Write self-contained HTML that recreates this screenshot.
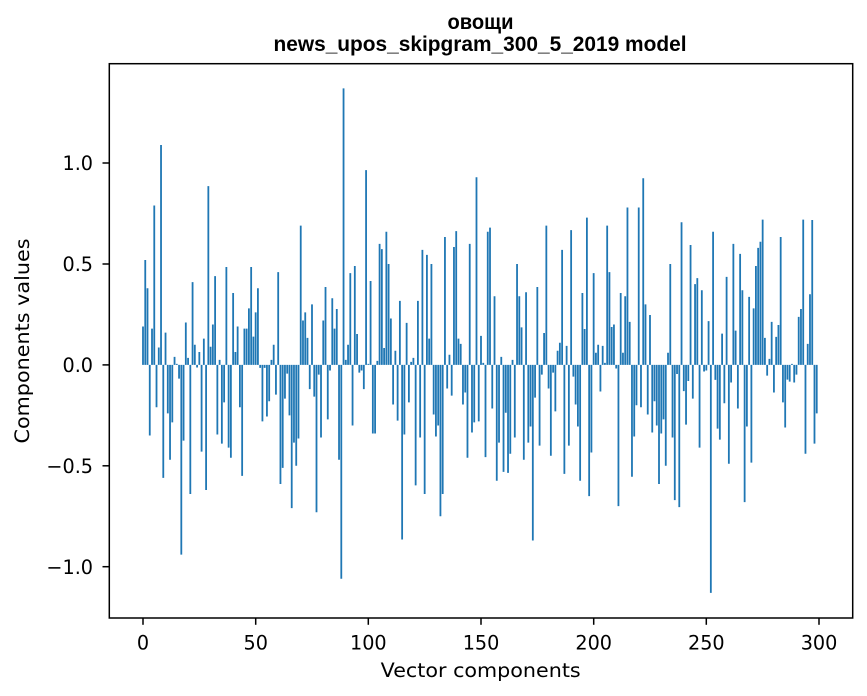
<!DOCTYPE html>
<html>
<head>
<meta charset="utf-8">
<style>
html,body{margin:0;padding:0;background:#fff;}
svg{display:block;}
.t{font-family:"DejaVu Sans","Liberation Sans",sans-serif;font-size:19.2px;fill:#000;}
.ti{font-family:"Liberation Sans","DejaVu Sans",sans-serif;font-weight:bold;font-size:21px;fill:#000;}
</style>
</head>
<body>
<svg width="867" height="696" viewBox="0 0 867 696" xmlns="http://www.w3.org/2000/svg">
<rect x="0" y="0" width="867" height="696" fill="#fff"/>
<g transform="translate(143,364.9) scale(2.2533,-201.8)">
<path fill="#1f77b4" d="M-.4 0h.8V.19h-.8z
m1 0h.8V.52h-.8z
m1 0h.8V.38h-.8z
m1 0h.8V-.35h-.8z
m1 0h.8V.18h-.8z
m1 0h.8V.79h-.8z
m1 0h.8V-.21h-.8z
m1 0h.8V.086h-.8z
m1 0h.8V1.09h-.8z
m1 0h.8V-.56h-.8z
m1 0h.8V.16h-.8z
m1 0h.8V-.24h-.8z
m1 0h.8V-.47h-.8z
m1 0h.8V-.285h-.8z
m1 0h.8V.04h-.8z
m1 0h.8V.005h-.8z
m1 0h.8V-.068h-.8z
m1 0h.8V-.94h-.8z
m1 0h.8V-.375h-.8z
m1 0h.8V.21h-.8z
m1 0h.8V.035h-.8z
m1 0h.8V-.64h-.8z
m1 0h.8V.41h-.8z
m1 0h.8V.10h-.8z
m1 0h.8V-.013h-.8z
m1 0h.8V.064h-.8z
m1 0h.8V-.43h-.8z
m1 0h.8V.13h-.8z
m1 0h.8V-.62h-.8z
m1 0h.8V.886h-.8z
m1 0h.8V.09h-.8z
m1 0h.8V.20h-.8z
m1 0h.8V.44h-.8z
m1 0h.8V-.345h-.8z
m1 0h.8V.025h-.8z
m1 0h.8V-.39h-.8z
m1 0h.8V-.186h-.8z
m1 0h.8V.485h-.8z
m1 0h.8V-.41h-.8z
m1 0h.8V-.46h-.8z
m1 0h.8V.356h-.8z
m1 0h.8V.064h-.8z
m1 0h.8V.19h-.8z
m1 0h.8V-.21h-.8z
m1 0h.8V-.55h-.8z
m1 0h.8V.18h-.8z
m1 0h.8V.18h-.8z
m1 0h.8V.28h-.8z
m1 0h.8V.485h-.8z
m1 0h.8V.14h-.8z
m1 0h.8V.26h-.8z
m1 0h.8V.38h-.8z
m1 0h.8V-.015h-.8z
m1 0h.8V-.28h-.8z
m1 0h.8V-.015h-.8z
m1 0h.8V-.256h-.8z
m1 0h.8V-.18h-.8z
m1 0h.8V.025h-.8z
m1 0h.8V.10h-.8z
m1 0h.8V-.147h-.8z
m1 0h.8V.46h-.8z
m1 0h.8V-.59h-.8z
m1 0h.8V-.51h-.8z
m1 0h.8V-.167h-.8z
m1 0h.8V-.043h-.8z
m1 0h.8V-.25h-.8z
m1 0h.8V-.71h-.8z
m1 0h.8V-.385h-.8z
m1 0h.8V-.50h-.8z
m1 0h.8V-.365h-.8z
m1 0h.8V.69h-.8z
m1 0h.8V.22h-.8z
m1 0h.8V.26h-.8z
m1 0h.8V.134h-.8z
m1 0h.8V-.12h-.8z
m1 0h.8V.30h-.8z
m1 0h.8V-.157h-.8z
m1 0h.8V-.73h-.8z
m1 0h.8V-.048h-.8z
m1 0h.8V-.36h-.8z
m1 0h.8V.22h-.8z
m1 0h.8V.386h-.8z
m1 0h.8V-.27h-.8z
m1 0h.8V-.028h-.8z
m1 0h.8V.33h-.8z
m1 0h.8V.18h-.8z
m1 0h.8V.277h-.8z
m1 0h.8V-.47h-.8z
m1 0h.8V-1.06h-.8z
m1 0h.8V1.37h-.8z
m1 0h.8V.025h-.8z
m1 0h.8V.10h-.8z
m1 0h.8V.455h-.8z
m1 0h.8V-.30h-.8z
m1 0h.8V.49h-.8z
m1 0h.8V.153h-.8z
m1 0h.8V-.038h-.8z
m1 0h.8V-.028h-.8z
m1 0h.8V-.12h-.8z
m1 0h.8V.965h-.8z
m1 0h.8V.005h-.8z
m1 0h.8V.416h-.8z
m1 0h.8V-.34h-.8z
m1 0h.8V-.34h-.8z
m1 0h.8V.02h-.8z
m1 0h.8V.60h-.8z
m1 0h.8V.574h-.8z
m1 0h.8V.084h-.8z
m1 0h.8V.66h-.8z
m1 0h.8V.50h-.8z
m1 0h.8V.23h-.8z
m1 0h.8V-.196h-.8z
m1 0h.8V.07h-.8z
m1 0h.8V-.276h-.8z
m1 0h.8V.317h-.8z
m1 0h.8V-.865h-.8z
m1 0h.8V-.345h-.8z
m1 0h.8V.208h-.8z
m1 0h.8V-.186h-.8z
m1 0h.8V.015h-.8z
m1 0h.8V.035h-.8z
m1 0h.8V-.597h-.8z
m1 0h.8V.317h-.8z
m1 0h.8V-.36h-.8z
m1 0h.8V.57h-.8z
m1 0h.8V-.64h-.8z
m1 0h.8V.545h-.8z
m1 0h.8V.13h-.8z
m1 0h.8V.50h-.8z
m1 0h.8V-.246h-.8z
m1 0h.8V-.355h-.8z
m1 0h.8V-.30h-.8z
m1 0h.8V-.75h-.8z
m1 0h.8V-.64h-.8z
m1 0h.8V.634h-.8z
m1 0h.8V-.117h-.8z
m1 0h.8V.05h-.8z
m1 0h.8V-.152h-.8z
m1 0h.8V.584h-.8z
m1 0h.8V.663h-.8z
m1 0h.8V.13h-.8z
m1 0h.8V.104h-.8z
m1 0h.8V-.196h-.8z
m1 0h.8V-.137h-.8z
m1 0h.8V-.46h-.8z
m1 0h.8V.60h-.8z
m1 0h.8V-.335h-.8z
m1 0h.8V-.285h-.8z
m1 0h.8V.93h-.8z
m1 0h.8V-.28h-.8z
m1 0h.8V.144h-.8z
m1 0h.8V.01h-.8z
m1 0h.8V-.457h-.8z
m1 0h.8V.66h-.8z
m1 0h.8V.68h-.8z
m1 0h.8V-.216h-.8z
m1 0h.8V.34h-.8z
m1 0h.8V-.574h-.8z
m1 0h.8V-.385h-.8z
m1 0h.8V.04h-.8z
m1 0h.8V-.53h-.8z
m1 0h.8V-.237h-.8z
m1 0h.8V-.535h-.8z
m1 0h.8V-.44h-.8z
m1 0h.8V.025h-.8z
m1 0h.8V-.36h-.8z
m1 0h.8V.50h-.8z
m1 0h.8V.34h-.8z
m1 0h.8V.186h-.8z
m1 0h.8V-.47h-.8z
m1 0h.8V.36h-.8z
m1 0h.8V-.385h-.8z
m1 0h.8V-.305h-.8z
m1 0h.8V-.87h-.8z
m1 0h.8V-.162h-.8z
m1 0h.8V.386h-.8z
m1 0h.8V-.40h-.8z
m1 0h.8V-.048h-.8z
m1 0h.8V.158h-.8z
m1 0h.8V.69h-.8z
m1 0h.8V-.117h-.8z
m1 0h.8V-.45h-.8z
m1 0h.8V-.038h-.8z
m1 0h.8V-.23h-.8z
m1 0h.8V.07h-.8z
m1 0h.8V.11h-.8z
m1 0h.8V.57h-.8z
m1 0h.8V-.54h-.8z
m1 0h.8V.094h-.8z
m1 0h.8V-.40h-.8z
m1 0h.8V.668h-.8z
m1 0h.8V-.058h-.8z
m1 0h.8V-.196h-.8z
m1 0h.8V-.305h-.8z
m1 0h.8V-.574h-.8z
m1 0h.8V.356h-.8z
m1 0h.8V.178h-.8z
m1 0h.8V.73h-.8z
m1 0h.8V-.65h-.8z
m1 0h.8V-.434h-.8z
m1 0h.8V.455h-.8z
m1 0h.8V.06h-.8z
m1 0h.8V.10h-.8z
m1 0h.8V-.132h-.8z
m1 0h.8V.094h-.8z
m1 0h.8V.01h-.8z
m1 0h.8V.69h-.8z
m1 0h.8V.46h-.8z
m1 0h.8V.188h-.8z
m1 0h.8V.20h-.8z
m1 0h.8V-.018h-.8z
m1 0h.8V-.70h-.8z
m1 0h.8V.356h-.8z
m1 0h.8V.06h-.8z
m1 0h.8V.34h-.8z
m1 0h.8V.78h-.8z
m1 0h.8V.213h-.8z
m1 0h.8V-.554h-.8z
m1 0h.8V-.355h-.8z
m1 0h.8V-.20h-.8z
m1 0h.8V.78h-.8z
m1 0h.8V-.21h-.8z
m1 0h.8V.925h-.8z
m1 0h.8V.30h-.8z
m1 0h.8V-.246h-.8z
m1 0h.8V.247h-.8z
m1 0h.8V-.335h-.8z
m1 0h.8V-.18h-.8z
m1 0h.8V-.30h-.8z
m1 0h.8V-.59h-.8z
m1 0h.8V-.34h-.8z
m1 0h.8V-.27h-.8z
m1 0h.8V-.50h-.8z
m1 0h.8V.06h-.8z
m1 0h.8V.50h-.8z
m1 0h.8V-.36h-.8z
m1 0h.8V-.67h-.8z
m1 0h.8V-.045h-.8z
m1 0h.8V-.705h-.8z
m1 0h.8V.707h-.8z
m1 0h.8V-.13h-.8z
m1 0h.8V-.296h-.8z
m1 0h.8V-.08h-.8z
m1 0h.8V.594h-.8z
m1 0h.8V-.167h-.8z
m1 0h.8V.40h-.8z
m1 0h.8V.43h-.8z
m1 0h.8V-.41h-.8z
m1 0h.8V.37h-.8z
m1 0h.8V-.033h-.8z
m1 0h.8V-.028h-.8z
m1 0h.8V.217h-.8z
m1 0h.8V-1.13h-.8z
m1 0h.8V.66h-.8z
m1 0h.8V-.074h-.8z
m1 0h.8V-.316h-.8z
m1 0h.8V-.37h-.8z
m1 0h.8V.155h-.8z
m1 0h.8V-.19h-.8z
m1 0h.8V.436h-.8z
m1 0h.8V-.49h-.8z
m1 0h.8V-.087h-.8z
m1 0h.8V.60h-.8z
m1 0h.8V.17h-.8z
m1 0h.8V-.216h-.8z
m1 0h.8V.55h-.8z
m1 0h.8V.37h-.8z
m1 0h.8V-.68h-.8z
m1 0h.8V-.305h-.8z
m1 0h.8V.337h-.8z
m1 0h.8V-.484h-.8z
m1 0h.8V.28h-.8z
m1 0h.8V.49h-.8z
m1 0h.8V.58h-.8z
m1 0h.8V.61h-.8z
m1 0h.8V.72h-.8z
m1 0h.8V.134h-.8z
m1 0h.8V-.053h-.8z
m1 0h.8V.03h-.8z
m1 0h.8V.213h-.8z
m1 0h.8V-.137h-.8z
m1 0h.8V.139h-.8z
m1 0h.8V.198h-.8z
m1 0h.8V.634h-.8z
m1 0h.8V-.186h-.8z
m1 0h.8V-.31h-.8z
m1 0h.8V-.073h-.8z
m1 0h.8V-.083h-.8z
m1 0h.8V.005h-.8z
m1 0h.8V-.087h-.8z
m1 0h.8V-.048h-.8z
m1 0h.8V.238h-.8z
m1 0h.8V.277h-.8z
m1 0h.8V.72h-.8z
m1 0h.8V-.44h-.8z
m1 0h.8V.104h-.8z
m1 0h.8V.35h-.8z
m1 0h.8V.718h-.8z
m1 0h.8V-.39h-.8z
m1 0h.8V-.24h-.8z"/>
</g>

<rect x="109.3" y="63.7" width="743.4" height="554.3" fill="none" stroke="#000" stroke-width="1.5"/>

<g stroke="#000" stroke-width="1.5">
<line x1="102.5" y1="163" x2="109.3" y2="163"/>
<line x1="102.5" y1="264" x2="109.3" y2="264"/>
<line x1="102.5" y1="364.9" x2="109.3" y2="364.9"/>
<line x1="102.5" y1="465.8" x2="109.3" y2="465.8"/>
<line x1="102.5" y1="566.7" x2="109.3" y2="566.7"/>
<line x1="143" y1="618" x2="143" y2="624.8"/>
<line x1="255.7" y1="618" x2="255.7" y2="624.8"/>
<line x1="368.3" y1="618" x2="368.3" y2="624.8"/>
<line x1="481" y1="618" x2="481" y2="624.8"/>
<line x1="593.7" y1="618" x2="593.7" y2="624.8"/>
<line x1="706.3" y1="618" x2="706.3" y2="624.8"/>
<line x1="819" y1="618" x2="819" y2="624.8"/>
</g>

<g class="t" text-anchor="end">
<text x="93" y="170">1.0</text>
<text x="93" y="271">0.5</text>
<text x="93" y="372">0.0</text>
<text x="93" y="473">−0.5</text>
<text x="93" y="574">−1.0</text>
</g>

<g class="t" text-anchor="middle">
<text x="143" y="649.5">0</text>
<text x="255.7" y="649.5">50</text>
<text x="368.3" y="649.5">100</text>
<text x="481" y="649.5">150</text>
<text x="593.7" y="649.5">200</text>
<text x="706.3" y="649.5">250</text>
<text x="819" y="649.5">300</text>
</g>

<text class="t" x="480.7" y="677" text-anchor="middle" textLength="200" lengthAdjust="spacingAndGlyphs">Vector components</text>
<text class="t" transform="translate(29,341) rotate(-90)" x="0" y="0" text-anchor="middle" textLength="205" lengthAdjust="spacingAndGlyphs">Components values</text>

<text class="ti" x="480.5" y="29" text-anchor="middle" textLength="66" lengthAdjust="spacingAndGlyphs">овощи</text>
<text class="ti" x="480" y="51" text-anchor="middle" textLength="413" lengthAdjust="spacingAndGlyphs">news_upos_skipgram_300_5_2019 model</text>
</svg>
</body>
</html>
